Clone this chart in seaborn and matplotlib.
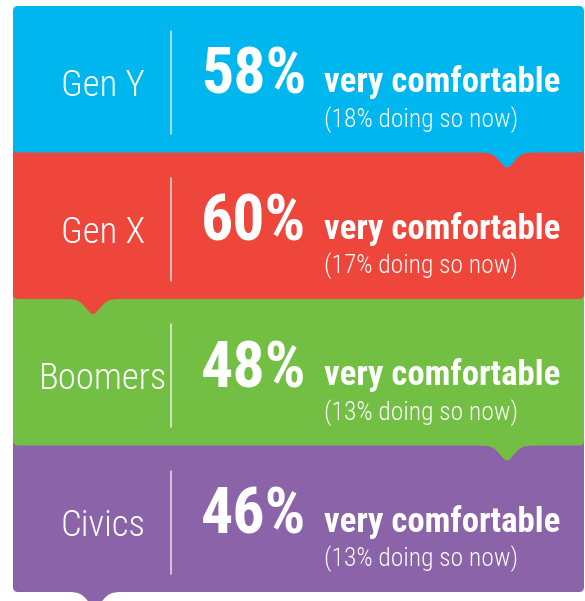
import numpy as np
import pandas as pd
import seaborn as sns
import matplotlib.pyplot as plt
from matplotlib.patches import FancyBboxPatch, PathPatch
from matplotlib.path import Path
from matplotlib.transforms import Affine2D

generations = ["Gen Y", "Gen X", "Boomers", "Civics"]
very_comfortable_pct = [58, 60, 48, 46]
doing_now_pct = [18, 17, 13, 13]
phrase = "very comfortable"
colors = ["#00B6EF", "#EF463C", "#72BF44", "#8B63A8"]

sns.set_theme(style="white")
plt.rcParams['font.family'] = ['Roboto Condensed', 'Roboto', 'DejaVu Sans']

W, H = 585, 601
fig = plt.figure(figsize=(W / 100, H / 100), dpi=100)
ax = fig.add_axes([0, 0, 1, 1])

df = pd.DataFrame({"generation": generations, "extent": [1.0] * len(generations)})
sns.barplot(data=df, y="generation", x="extent", hue="generation", palette=colors,
            orient="h", width=1.0, legend=False, saturation=1, ax=ax)

TOP = 6.0
BAND = 146.5
ax.set_xlim(0, 1)
ax.set_ylim((H - TOP) / BAND - 0.5, -TOP / BAND - 0.5)
ax.set_axis_off()

# pixel-coordinate transform on top of the seaborn data axes
trans = Affine2D().scale(1 / W, 1 / BAND).translate(0, -TOP / BAND - 0.5) + ax.transData

LEFT, RIGHT = 13, 584
pointer_x = [507, 93, 507, 95]


def pointer(c, b):
    verts = [(c - 27, b - 2), (c - 27, b),
             (c - 16, b), (c - 13, b + 2), (c - 8, b + 8),
             (c - 3, b + 13.5),
             (c - 1, b + 15.5), (c + 1, b + 15.5), (c + 3, b + 13.5),
             (c + 8, b + 8),
             (c + 13, b + 2), (c + 16, b), (c + 27, b),
             (c + 27, b - 2), (c - 27, b - 2)]
    codes = [Path.MOVETO, Path.LINETO,
             Path.CURVE4, Path.CURVE4, Path.CURVE4,
             Path.LINETO,
             Path.CURVE4, Path.CURVE4, Path.CURVE4,
             Path.LINETO,
             Path.CURVE4, Path.CURVE4, Path.CURVE4,
             Path.LINETO, Path.CLOSEPOLY]
    return Path(verts, codes)


bars = list(ax.patches)
for i, bar in enumerate(bars):
    color = bar.get_facecolor()
    ytop = (bar.get_y() + 0.5) * BAND + TOP
    hpx = bar.get_height() * BAND
    bar.remove()
    ext = 0 if i == 0 else 10
    box = FancyBboxPatch((LEFT, ytop - ext), RIGHT - LEFT, hpx + ext,
                         boxstyle="round,pad=0,rounding_size=5",
                         transform=trans, fc=color, ec="none", zorder=10 - i)
    ax.add_patch(box)
    ax.add_patch(PathPatch(pointer(pointer_x[i], ytop + hpx), transform=trans,
                           fc=color, ec="none", zorder=10 - i))
    # separator
    ax.plot([171, 171], [ytop + 25, ytop + 128], transform=trans, color="white",
            lw=1.1, alpha=0.8, zorder=20)
    ax.text(103, ytop + 90, generations[i], ha="center", va="baseline", fontsize=26.5,
            fontweight="light", color="white", transform=trans, zorder=20)
    ax.text(201, ytop + 88, f"{very_comfortable_pct[i]}%", ha="left", va="baseline",
            fontsize=46, fontweight="bold", color="white", transform=trans, zorder=20)
    ax.text(324, ytop + 86, phrase, ha="left", va="baseline", fontsize=25,
            fontweight="bold", color="white", transform=trans, zorder=20)
    ax.text(324, ytop + 121, f"({doing_now_pct[i]}% doing so now)", ha="left",
            va="baseline", fontsize=18.4, fontweight="light", color="white",
            transform=trans, zorder=20)

fig.savefig("out.png", dpi=100, facecolor="white")
